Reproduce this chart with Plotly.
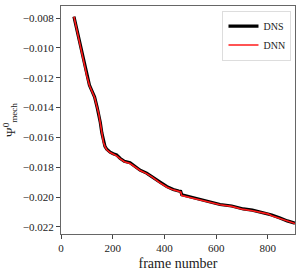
import plotly.graph_objects as go

frames = [50, 60, 70, 80, 90, 100, 110, 120, 130, 140, 146, 152, 158, 164, 170, 177,
          190, 202, 215, 228, 245, 267, 290, 306, 331, 350, 383, 410, 434, 455, 463,
          467, 500, 538, 576, 615, 660, 705, 740, 770, 800, 815, 847, 875, 905]

dns = [-0.0079, -0.0087, -0.0095, -0.0103, -0.0111, -0.0119, -0.0125, -0.0129,
       -0.0133, -0.0140, -0.0144, -0.0150, -0.0157, -0.0163, -0.0166, -0.0168,
       -0.0170, -0.0171, -0.01718, -0.0174, -0.0176, -0.0177, -0.0180, -0.0182,
       -0.0184, -0.0186, -0.0190, -0.0193, -0.0195, -0.01960, -0.01962,
       -0.01985, -0.0200, -0.0202, -0.02035, -0.0205, -0.0206, -0.0208,
       -0.02088, -0.0210, -0.0211, -0.0212, -0.0214, -0.0216, -0.02175]

dnn = [-0.0079, -0.00872, -0.00952, -0.01032, -0.01112, -0.01188, -0.01252, -0.01292,
       -0.01333, -0.01402, -0.01442, -0.01505, -0.01572, -0.01632, -0.01662, -0.01683,
       -0.01702, -0.01714, -0.01724, -0.01743, -0.01763, -0.01775, -0.01803, -0.01822,
       -0.01843, -0.01863, -0.01905, -0.01934, -0.01952, -0.01963, -0.01966,
       -0.01990, -0.02004, -0.02023, -0.02038, -0.02052, -0.02063, -0.02083,
       -0.02092, -0.02105, -0.02113, -0.02125, -0.02145, -0.02163, -0.02178]

xticks = [0, 200, 400, 600, 800]
yticks = [-0.008, -0.010, -0.012, -0.014, -0.016, -0.018, -0.020, -0.022]

fig = go.Figure()
fig.add_trace(go.Scatter(x=frames, y=dns, mode="lines", name="DNS",
                         line=dict(color="black", width=3.2)))
fig.add_trace(go.Scatter(x=frames, y=dnn, mode="lines", name="DNN",
                         line=dict(color="#ff1a1a", width=1.6)))

font = "Liberation Serif, DejaVu Serif, serif"
fig.update_layout(
    width=301, height=273,
    margin=dict(l=61, r=6, t=5, b=36),
    paper_bgcolor="white", plot_bgcolor="white",
    font=dict(family=font, size=11, color="#222"),
    showlegend=True,
    legend=dict(x=0.985, y=0.98, xanchor="right", yanchor="top",
                bgcolor="white", bordercolor="#dddddd", borderwidth=1,
                font=dict(size=10), tracegroupgap=0, itemwidth=30),
    xaxis=dict(range=[0, 905], tickvals=xticks, ticks="outside", ticklen=4,
               showgrid=False, zeroline=False, showline=True, linecolor="#666",
               linewidth=1, mirror=True,
               title=dict(text="frame number", font=dict(size=14), standoff=4)),
    yaxis=dict(range=[-0.02248, -0.00719], tickvals=yticks, tickformat=".3f",
               ticks="outside", ticklen=4, showgrid=False, zeroline=False,
               showline=True, linecolor="#666", linewidth=1, mirror=True,
               title=dict(text="Ψ<sup>0</sup><sub>mech</sub>", font=dict(size=13),
                          standoff=4)),
)

fig.write_html("out.html")
